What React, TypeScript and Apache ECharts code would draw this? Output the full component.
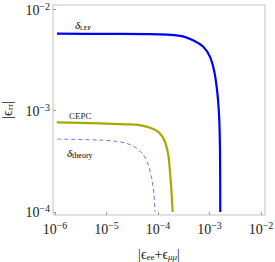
import React, { useEffect, useRef } from "react";
import * as echarts from "echarts";

const lepX = [1.094e-6, 1.0e-5, 7.0e-5, 2.67e-4, 4.79e-4, 7.59e-4, 1.023e-3, 1.222e-3, 1.38e-3, 1.48e-3, 1.55e-3, 1.6e-3, 1.62e-3];
const lepY = [5.74e-3, 5.71e-3, 5.68e-3, 5.46e-3, 4.95e-3, 4.26e-3, 3.39e-3, 2.51e-3, 1.71e-3, 1.19e-3, 8.05e-4, 4.08e-4, 1.0e-4];

const cepcX = [1.08e-6, 7.48e-6, 2.86e-5, 5.19e-5, 8.11e-5, 1.094e-4, 1.368e-4, 1.585e-4, 1.71e-4, 1.81e-4, 1.93e-4];
const cepcY = [7.66e-4, 7.48e-4, 7.31e-4, 7.08e-4, 6.58e-4, 5.96e-4, 4.93e-4, 3.65e-4, 2.49e-4, 1.71e-4, 1.0e-4];

const theoryX = [1.109e-6, 7.48e-6, 1.355e-5, 2.47e-5, 3.85e-5, 5.19e-5, 6.49e-5, 7.55e-5, 8.36e-5, 8.75e-5];
const theoryY = [5.24e-4, 5.12e-4, 5.01e-4, 4.75e-4, 4.25e-4, 3.65e-4, 2.9e-4, 2.15e-4, 1.47e-4, 1.0e-4];

const xTickExps = [-6, -5, -4, -3, -2];
const yTickExps = [-4, -3, -2];

const FONT = "'Liberation Serif', 'DejaVu Serif', serif";

function toLog(xs: number[], ys: number[]) {
  return xs.map((x, i) => [Math.log10(x), Math.log10(ys[i])]);
}

function tickLabel(v: number) {
  const e = Math.round(v);
  return `{b|10}{s|${e < 0 ? "\u2212" : ""}${Math.abs(e)}}`;
}

const tickRich = {
  b: { fontSize: 14, lineHeight: 16, fontFamily: FONT, color: "#222", verticalAlign: "bottom" },
  s: { fontSize: 10, lineHeight: 9, fontFamily: FONT, color: "#222", verticalAlign: "top" },
};

const nameRich = {
  a: { fontSize: 14, lineHeight: 14, fontFamily: FONT, color: "#222", verticalAlign: "top" },
  sub: { fontSize: 9, lineHeight: 9, fontFamily: FONT, color: "#222", verticalAlign: "bottom" },
  subi: { fontSize: 9, lineHeight: 9, fontFamily: FONT, fontStyle: "italic", color: "#222", verticalAlign: "bottom" },
};

export default function App() {
  const ref = useRef<HTMLDivElement>(null);
  useEffect(() => {
    if (!ref.current) return;
    const chart = echarts.init(ref.current, undefined, { renderer: "svg" });
    chart.setOption({
      animation: false,
      grid: {
        left: 53,
        right: 10,
        top: 5,
        bottom: 47,
        outerBoundsMode: "none",
        containLabel: false,
        show: true,
        borderColor: "#c4c4c4",
        borderWidth: 1,
        backgroundColor: "transparent",
      },
      xAxis: {
        type: "value",
        min: -6.039,
        max: -1.922,
        axisLine: { show: false },
        splitLine: { show: false },
        axisTick: { show: true, inside: true, length: 3, lineStyle: { color: "#999" }, customValues: xTickExps },
        axisLabel: { formatter: tickLabel, rich: tickRich, margin: 5, customValues: xTickExps },
        name: "{a||\u03f5}{sub|ee}{a|+\u03f5}{subi|\u03bc\u03bc}{a||}",
        nameLocation: "middle",
        nameGap: 32,
        nameTextStyle: { rich: nameRich },
      },
      yAxis: {
        type: "value",
        min: -4.03,
        max: -1.958,
        axisLine: { show: false },
        splitLine: { show: false },
        axisTick: { show: true, inside: true, length: 3, lineStyle: { color: "#999" }, customValues: yTickExps },
        axisLabel: { formatter: tickLabel, rich: tickRich, margin: 3, customValues: yTickExps },
        name: "{a||\u03f5}{subi|\u03c4\u03c4}{a||}",
        nameLocation: "middle",
        nameRotate: 90,
        nameGap: 34,
        nameTextStyle: { rich: nameRich },
      },
      series: [
        {
          type: "line",
          data: toLog(lepX, lepY),
          showSymbol: false,
          smooth: 0.3,
          lineStyle: { color: "#0000ff", width: 2.2 },
        },
        {
          type: "line",
          data: toLog(cepcX, cepcY),
          showSymbol: false,
          smooth: 0.3,
          lineStyle: { color: "#a8a800", width: 2.2 },
        },
        {
          type: "line",
          data: toLog(theoryX, theoryY),
          showSymbol: false,
          smooth: 0.3,
          lineStyle: { color: "#7272ff", width: 1, type: [4, 3] },
        },
      ],
      graphic: [
        {
          type: "text",
          x: 75,
          y: 25,
          style: {
            text: "{d|\u03b4}{s|LEP}",
            verticalAlign: "middle",
            rich: {
              d: { fontSize: 11, lineHeight: 12, fontFamily: FONT, fontStyle: "italic", color: "#222", verticalAlign: "top" },
              s: { fontSize: 6, lineHeight: 7, fontFamily: FONT, color: "#222", verticalAlign: "bottom" },
            },
          },
        },
        {
          type: "text",
          x: 69,
          y: 116,
          style: { text: "CEPC", font: `9px ${FONT}`, fill: "#222", verticalAlign: "middle" },
        },
        {
          type: "text",
          x: 67,
          y: 153,
          style: {
            text: "{d|\u03b4}{s|theory}",
            verticalAlign: "middle",
            rich: {
              d: { fontSize: 11, lineHeight: 12, fontFamily: FONT, fontStyle: "italic", color: "#222", verticalAlign: "top" },
              s: { fontSize: 8, lineHeight: 8, fontFamily: FONT, color: "#222", verticalAlign: "bottom" },
            },
          },
        },
      ],
    });
    return () => chart.dispose();
  }, []);
  return <div ref={ref} style={{ width: 275, height: 262, position: "absolute", left: 0, top: 0 }} />;
}
